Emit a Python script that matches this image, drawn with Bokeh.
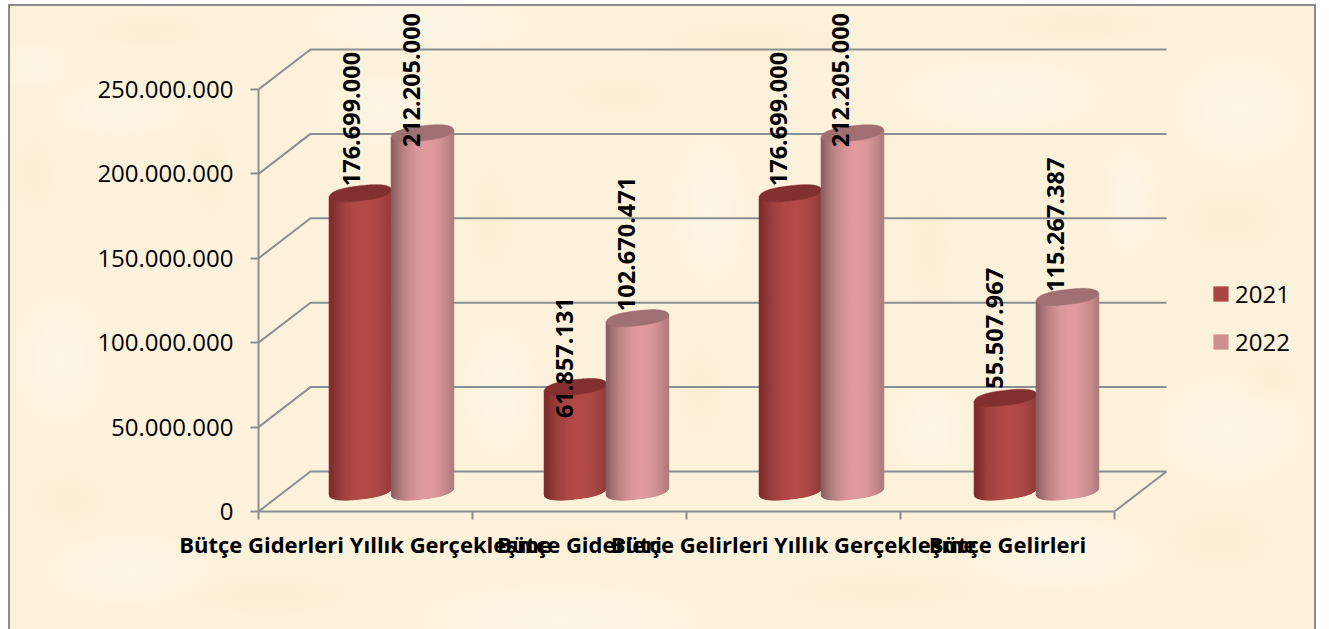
import math
from bokeh.plotting import figure
from bokeh.models import ColumnDataSource, FixedTicker, Legend, LegendItem, Range1d
from bokeh.core.properties import value
from bokeh.embed import file_html
from bokeh.resources import INLINE

categories = ["Bütçe Giderleri Yıllık Gerçekleşme", "Bütçe Giderleri", "Bütçe Gelirleri Yıllık Gerçekleşme", "Bütçe Gelirleri"]
series_names = ["2021", "2022"]
values_2021 = [176699000, 61857131, 176699000, 55507967]
values_2022 = [212205000, 102670471, 212205000, 115267387]
labels_2021 = ["176.699.000", "61.857.131", "176.699.000", "55.507.967"]
labels_2022 = ["212.205.000", "102.670.471", "212.205.000", "115.267.387"]
y_ticks = [0, 50000000, 100000000, 150000000, 200000000, 250000000]
y_tick_labels = ["0", "50.000.000", "100.000.000", "150.000.000", "200.000.000", "250.000.000"]

# layout (pixels per data unit, depth of the 3D box)
W, H = 1308, 625
LEFT, BOTTOM = 250, 118
PX = 214.0
PY = 422.0 / 250000000
DEPTH_X, DEPTH_Y = 52 / PX, 40 / PY
BAR_W = 62.5 / PX
BAR_STEP = 215 / PX
GRID = "#8b8e92"
FONT = "Open Sans"
PAPER = "#fcf2db"

# soft mottling of the parchment page: (x, y, rx, ry) on the page
LIGHT = "255,250,240"
WARM = "246,232,188"
light_spots = [(30, 65, 40, 25), (420, 25, 120, 30), (1240, 110, 70, 60), (1230, 430, 80, 60), (60, 360, 50, 70),
               (560, 620, 150, 40), (1060, 555, 100, 40), (380, 110, 60, 40), (1000, 95, 110, 40), (500, 390, 40, 70),
               (710, 210, 40, 80), (930, 430, 40, 50), (120, 110, 70, 30), (130, 570, 90, 40), (1130, 200, 30, 60)]
warm_spots = [(150, 30, 90, 25), (750, 40, 130, 30), (1080, 25, 120, 25), (1230, 220, 80, 50), (35, 175, 30, 60),
              (70, 500, 60, 40), (270, 595, 130, 30), (880, 590, 150, 30), (1220, 540, 80, 50), (490, 220, 35, 80),
              (930, 250, 30, 90), (700, 390, 35, 70), (620, 95, 80, 30), (210, 170, 30, 70), (1270, 380, 40, 35),
              (580, 540, 70, 20)]

def spots(rows, rgb, alpha):
    return [f"radial-gradient(ellipse {rx}px {ry}px at {x - 8}px {y - 4}px, rgba({rgb},{alpha}) 0%, rgba({rgb},0) 100%)"
            for x, y, rx, ry in rows]

page_css = {
    "background-color": PAPER,
    "background-image": ", ".join(spots(light_spots, LIGHT, 0.5) + spots(warm_spots, WARM, 0.22)),
    "box-shadow": "inset 2px 2px 0 #8c8c8c, inset -2px 0 0 #8c8c8c",
}

p = figure(width=W, height=H, output_backend="svg", toolbar_location=None,
           x_range=Range1d(0, (W - LEFT) / PX), y_range=Range1d(0, (H - BOTTOM) / PY),
           min_border_left=LEFT, min_border_right=0, min_border_top=0, min_border_bottom=BOTTOM,
           margin=(4, 0, 0, 8), styles=page_css)
p.background_fill_alpha = 0
p.border_fill_alpha = 0
p.outline_line_color = None
p.grid.visible = False

# axes
ya = p.yaxis[0]
ya.ticker = FixedTicker(ticks=y_ticks)
ya.major_label_overrides = {t: l for t, l in zip(y_ticks, y_tick_labels)}
ya.bounds = (0, y_ticks[-1])
ya.major_tick_in = 0
ya.major_tick_out = 8
ya.minor_tick_line_color = None
ya.major_label_text_font = FONT
ya.major_label_text_font_size = "24px"
ya.major_label_text_color = "#000000"
ya.major_label_standoff = 17
ya.axis_line_color = GRID
ya.axis_line_width = 2
ya.major_tick_line_color = GRID
ya.major_tick_line_width = 2

centers = [i + 0.5 for i in range(len(categories))]
edges = list(range(len(categories) + 1))
xa = p.xaxis[0]
xa.ticker = FixedTicker(ticks=centers, minor_ticks=edges)
xa.major_label_overrides = {c: l for c, l in zip(centers, categories)}
xa.bounds = (0, len(categories))
xa.major_tick_line_color = None
xa.major_tick_in = 0
xa.major_tick_out = 0
xa.minor_tick_in = 0
xa.minor_tick_out = 8
xa.minor_tick_line_color = GRID
xa.minor_tick_line_width = 2
xa.major_label_text_font = FONT
xa.major_label_text_font_size = "22px"
xa.major_label_text_font_style = "bold"
xa.major_label_text_color = "#000000"
xa.major_label_standoff = 9
xa.axis_line_color = GRID
xa.axis_line_width = 2

# 3D box: walls
n = len(categories)
gx, gy = [], []
for t in y_ticks:
    gx.append([0, DEPTH_X, n + DEPTH_X])
    gy.append([t, t + DEPTH_Y, t + DEPTH_Y])
gx.append([n, n + DEPTH_X])
gy.append([0, DEPTH_Y])
p.multi_line(gx, gy, line_color=GRID, line_width=2)

# cylinders
def mix(a, b, k):
    return "#%02x%02x%02x" % tuple(round(a[i] + (b[i] - a[i]) * k) for i in range(3))

STYLES = [
    dict(dark=(0x76, 0x2a, 0x2a), light=(0xb2, 0x4b, 0x48), top="#842f2f"),
    dict(dark=(0x86, 0x5c, 0x5d), light=(0xdf, 0x9b, 0x9d), top="#a06f72"),
]
SKEW = 3.5 / PY
RY = 7.5 / PY
STRIPS = 60

def arc(u):
    return max(0, 1 - abs(u) ** 2.6) ** 0.5

def front(u):
    return u * SKEW - RY * arc(u)

def back(u):
    return u * SKEW + RY * arc(u)

def cylinder(cx, v, st):
    xs, ys, cs = [], [], []
    for k in range(STRIPS):
        u0 = -1 + 2 * k / STRIPS
        u1 = -1 + 2 * (k + 1) / STRIPS
        um = (u0 + u1) / 2
        shade = max(0, 1 - (abs(um - 0.15) / 1.15) ** 2)
        xx = [cx + u0 * BAR_W / 2, cx + u1 * BAR_W / 2, cx + u1 * BAR_W / 2, cx + u0 * BAR_W / 2]
        yy = [DEPTH_Y / 2 + front(u0), DEPTH_Y / 2 + front(u1), DEPTH_Y / 2 + v + front(u1), DEPTH_Y / 2 + v + front(u0)]
        xs.append(xx); ys.append(yy); cs.append(mix(st["dark"], st["light"], shade))
    p.patches(xs, ys, fill_color=cs, line_color=cs, line_width=1)
    us = [-1 + 2 * k / 60 for k in range(61)]
    ex = [cx + u * BAR_W / 2 for u in us] + [cx + u * BAR_W / 2 for u in reversed(us)]
    ey = [DEPTH_Y / 2 + v + front(u) for u in us] + [DEPTH_Y / 2 + v + back(u) for u in reversed(us)]
    p.patch(ex, ey, fill_color=st["top"], line_color=st["top"], line_width=0.5)

gap = (1 - 2 * 62 / PX) / 2
bar_x = [[], []]
for i in range(n):
    for s, vals in enumerate([values_2021, values_2022]):
        cx = i * BAR_STEP + gap + (62 / PX) * (s + 0.5) + DEPTH_X / 2
        bar_x[s].append(cx)
        cylinder(cx, vals[i], STYLES[s])

# data labels (offsets in pixels from the bar's top centre)
off_x = [[-9, -11, -12, -11], [-11, -11, -12, -12]]
off_y = [[-7, 31, -7, -9], [14, -7, 14, -5]]
for s, (vals, labs) in enumerate([(values_2021, labels_2021), (values_2022, labels_2022)]):
    src = ColumnDataSource(dict(x=bar_x[s], y=[v + DEPTH_Y / 2 for v in vals], t=labs, xo=off_x[s], yo=off_y[s]))
    p.text("x", "y", text="t", source=src, angle=math.pi / 2, x_offset="xo", y_offset="yo",
           text_align="left", text_baseline="middle", text_font=value(FONT), text_font_style="bold",
           text_font_size="23.5px", text_color="#000000")

# legend
r1 = p.quad(left=[-3], right=[-2], top=[-3], bottom=[-2], fill_color="#a94545", line_color=None)
r2 = p.quad(left=[-3], right=[-2], top=[-3], bottom=[-2], fill_color="#ce8e8e", line_color=None)
leg = Legend(items=[LegendItem(label=series_names[0], renderers=[r1]), LegendItem(label=series_names[1], renderers=[r2])],
             location=(953, 153), background_fill_alpha=0, border_line_color=None,
             glyph_width=19, glyph_height=19, spacing=15, padding=0, margin=0,
             label_text_font=FONT, label_text_font_size="24px", label_text_color="#000000", label_standoff=5)
p.add_layout(leg, "center")

open("out.html", "w").write(file_html(p, INLINE))
